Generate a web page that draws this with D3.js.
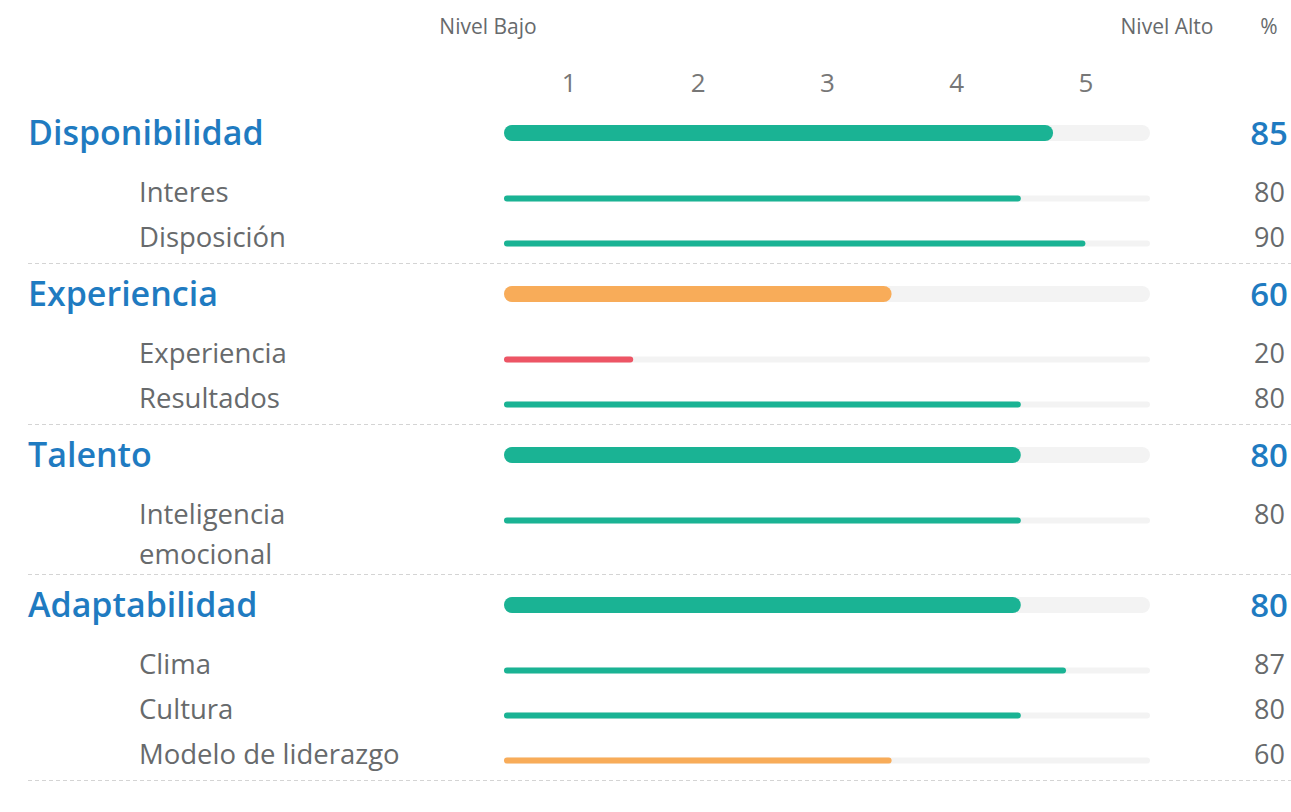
<!DOCTYPE html>
<html>
<head>
<meta charset="utf-8">
<script src="https://cdn.jsdelivr.net/npm/d3@7"></script>
<style>
  body { margin: 0; background: #fff; }
  svg { font-family: "Open Sans", sans-serif; display: block; }
</style>
</head>
<body>
<div id="chart"></div>
<script>
// data
const groups = ["Disponibilidad", "Experiencia", "Talento", "Adaptabilidad"];
const groupValues = [85, 60, 80, 80];
const subLabels = [
  ["Interes", "Disposición"],
  ["Experiencia", "Resultados"],
  ["Inteligencia\nemocional"],
  ["Clima", "Cultura", "Modelo de liderazgo"]
];
const subValues = [
  [80, 90],
  [20, 80],
  [80],
  [87, 80, 60]
];
const levelLabels = ["1", "2", "3", "4", "5"];
const levelPositions = [10, 30, 50, 70, 90];

let width = 1291;
let height = 812;

const green = "#1ab394", orange = "#f8ac59", red = "#ed5565";
const blue = "#1f7bc1", grey = "#676a6c";

function barColor(v) {
  if (v >= 70) return green;
  if (v >= 40) return orange;
  return red;
}

let svg = d3.select("#chart")
            .append("svg")
            .attr("width", width)
            .attr("height", height);

let xScale = d3.scaleLinear()
               .domain([0, 100])
               .range([504, 1150]);

// header labels
svg.append("text")
   .attr("x", 488).attr("y", 34)
   .attr("text-anchor", "middle")
   .attr("font-size", 21).attr("fill", grey)
   .text("Nivel Bajo");
svg.append("text")
   .attr("x", 1167).attr("y", 34)
   .attr("text-anchor", "middle")
   .attr("font-size", 21).attr("fill", grey)
   .text("Nivel Alto");
svg.append("text")
   .attr("x", 1269).attr("y", 34)
   .attr("text-anchor", "middle")
   .attr("font-size", 21).attr("fill", grey)
   .text("%");

// level axis
let axis = d3.axisTop(xScale)
             .tickValues(levelPositions)
             .tickFormat((d, i) => levelLabels[i])
             .tickSize(0)
             .tickPadding(0);

let axisG = svg.append("g")
               .attr("transform", "translate(0, 92)")
               .call(axis);
axisG.select(".domain").remove();
axisG.selectAll("text")
     .attr("font-family", "Open Sans, sans-serif")
     .attr("font-size", 26)
     .attr("fill", "#777");

// build rows with running y (y = bar centre)
let rows = [];
let seps = [];
let y = 133;
groups.forEach((g, gi) => {
  rows.push({ label: g, value: groupValues[gi], main: true, y: y });
  y += 65.5;
  subLabels[gi].forEach((s, si) => {
    let lines = s.split("\n");
    rows.push({ label: s, value: subValues[gi][si], main: false, y: y });
    y += 45 + (lines.length - 1) * 34;
  });
  y -= 45;
  seps.push(Math.round(y + 19.5));
  y += 19.5 + 31;
});

// separators
svg.selectAll("line.sep")
   .data(seps)
   .enter()
   .append("line")
   .attr("class", "sep")
   .attr("x1", 28).attr("x2", width)
   .attr("y1", d => d + 0.5).attr("y2", d => d + 0.5)
   .attr("stroke", "#d4d4d4")
   .attr("stroke-dasharray", "4,3");

let row = svg.selectAll("g.row")
             .data(rows)
             .enter()
             .append("g")
             .attr("class", "row");

// track
row.append("rect")
   .attr("x", xScale(0))
   .attr("y", d => d.main ? d.y - 8 : d.y - 3)
   .attr("width", xScale(100) - xScale(0))
   .attr("height", d => d.main ? 16 : 6)
   .attr("rx", d => d.main ? 8 : 3)
   .attr("fill", "#f3f3f3");

// fill
row.append("rect")
   .attr("x", xScale(0))
   .attr("y", d => d.main ? d.y - 8 : d.y - 3)
   .attr("width", d => xScale(d.value) - xScale(0))
   .attr("height", d => d.main ? 16 : 6)
   .attr("rx", d => d.main ? 8 : 3)
   .attr("fill", d => barColor(d.value));

// labels
row.append("text")
   .attr("x", d => d.main ? 28 : 139)
   .attr("y", d => d.main ? d.y + 12 : d.y + 3.5)
   .attr("font-size", d => d.main ? 34 : 27.5)
   .attr("font-weight", d => d.main ? 600 : 400)
   .attr("fill", d => d.main ? blue : grey)
   .each(function(d) {
     let lines = d.label.split("\n");
     d3.select(this).selectAll("tspan")
       .data(lines)
       .enter()
       .append("tspan")
       .attr("x", d.main ? 28 : 139)
       .attr("dy", (l, i) => i === 0 ? 0 : 40)
       .text(l => l);
   });

// values
row.append("text")
   .attr("x", d => d.main ? 1288 : 1285)
   .attr("y", d => d.main ? d.y + 12 : d.y + 3.5)
   .attr("text-anchor", "end")
   .attr("font-size", d => d.main ? 33 : 27)
   .attr("font-weight", d => d.main ? 600 : 400)
   .attr("fill", d => d.main ? blue : grey)
   .text(d => d.value);
</script>
</body>
</html>
